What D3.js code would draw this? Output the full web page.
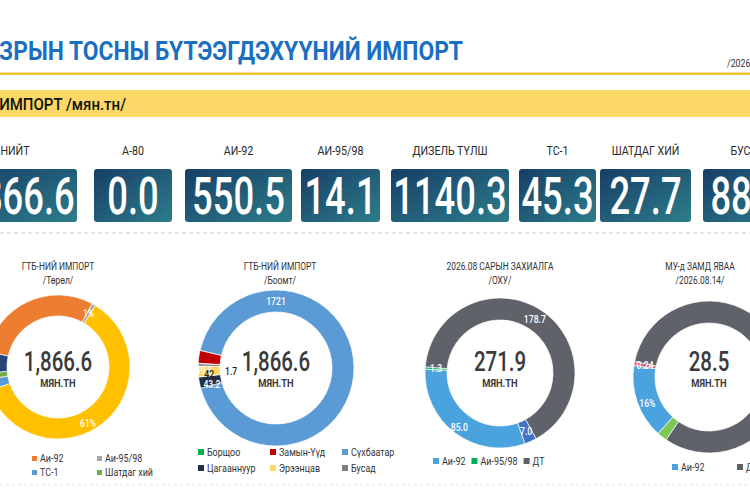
<!DOCTYPE html>
<html>
<head>
<meta charset="utf-8">
<script src="https://cdn.jsdelivr.net/npm/d3@7"></script>
<style>
  body { margin: 0; background: #fff; }
  svg { display: block; font-family: Roboto, "Noto Sans", sans-serif; }
</style>
</head>
<body>
<div id="chart"></div>
<script>
// ---- data ----
var kpiLabels = ["НИЙТ", "А-80", "АИ-92", "АИ-95/98", "ДИЗЕЛЬ ТҮЛШ", "ТС-1", "ШАТДАГ ХИЙ", "БУСАД"];
var kpiValues = [1866.6, 0.0, 550.5, 14.1, 1140.3, 45.3, 27.7, 88.7];

var typeNames = ["А-80", "Аи-92", "Аи-95/98", "Дизель түлш", "ТС-1", "Шатдаг хий", "Бусад"];
var typeValues = [0.0, 550.5, 14.1, 1140.3, 45.3, 27.7, 88.7];

var portNames = ["Борщоо", "Замын-Үүд", "Сүхбаатар", "Цагааннуур", "Эрээнцав", "Бусад"];
var portValues = [1.7, 49.5, 1721.0, 43.2, 42.0, 9.2];

var orderNames = ["Аи-92", "Аи-95/98", "ДТ", "ТС-1"];
var orderValues = [85.0, 1.3, 178.7, 7.0];

var transitNames = ["Аи-92", "Аи-95/98", "ДТ", "ТС-1"];
var transitValues = [4.5, 0.24, 23.16, 0.6];

var centerTotals = [1866.6, 1866.6, 271.9, 28.5];

// ---- layout ----
var W = 750, H = 500;
var tileEdges = [[-41, 77], [94, 172], [185, 292], [301, 380], [391, 509], [519, 596], [600, 691], [703, 790]];

var svg = d3.select("#chart").append("svg")
    .attr("width", W)
    .attr("height", H);

var defs = svg.append("defs");
var grad = defs.append("linearGradient")
    .attr("id", "tile")
    .attr("x1", 0).attr("y1", 0).attr("x2", 1).attr("y2", 1);
grad.append("stop").attr("offset", "0%").attr("stop-color", "#173e65");
grad.append("stop").attr("offset", "100%").attr("stop-color", "#2d7d8b");

// condensed text helper (squeezes glyphs horizontally)
function ctext(parent, x, y, str, size, o) {
    o = o || {};
    var g = parent.append("g")
        .attr("transform", "translate(" + x + "," + y + ") scale(" + (o.sx || 0.8) + ",1)");
    return g.append("text")
        .attr("text-anchor", o.anchor || "middle")
        .attr("font-size", size)
        .attr("font-weight", o.weight || 400)
        .attr("fill", o.fill || "#333")
        .attr("dy", o.dy || 0)
        .text(str);
}

// text whose left part runs off the page; fit the visible part between x0 and x1
function clipped(full, visible, x0, x1, y, size, weight, fill) {
    var t = svg.append("text").attr("font-size", size).attr("font-weight", weight).text(visible);
    var w = t.node().getComputedTextLength();
    t.remove();
    ctext(svg, x1, y, full, size, {sx: (x1 - x0) / w, anchor: "end", weight: weight, fill: fill});
}

// ---- header ----
clipped("ГАЗРЫН ТОСНЫ БҮТЭЭГДЭХҮҮНИЙ ИМПОРТ", "ЗРЫН ТОСНЫ БҮТЭЭГДЭХҮҮНИЙ ИМПОРТ", -1, 463, 60, 25, 700, "#1b6fc2");
ctext(svg, 727, 67, "/2026.08.14/", 11, {anchor: "start", fill: "#333", sx: 0.8});

svg.append("rect").attr("x", 0).attr("y", 72.5).attr("width", W).attr("height", 2.5).attr("fill", "#f1c232");
svg.append("rect").attr("x", 0).attr("y", 90).attr("width", W).attr("height", 27).attr("fill", "#fdd866");
clipped("ГТБ-НИЙ ИМПОРТ /мян.тн/", "ИМПОРТ /мян.тн/", -1, 126, 110, 16, 500, "#111");

// ---- KPI tiles ----
svg.append("line")
    .attr("x1", 0).attr("x2", W).attr("y1", 233).attr("y2", 233)
    .attr("stroke", "#c9c9c9").attr("stroke-dasharray", "4,3");

var tiles = svg.append("g").selectAll("g")
    .data(kpiValues)
    .join("g");

tiles.append("rect")
    .attr("x", (d, i) => tileEdges[i][0])
    .attr("y", 169)
    .attr("width", (d, i) => tileEdges[i][1] - tileEdges[i][0])
    .attr("height", 53)
    .attr("rx", 3)
    .attr("fill", "url(#tile)");

tiles.each(function (d, i) {
    var cx = (tileEdges[i][0] + tileEdges[i][1]) / 2;
    ctext(d3.select(this), cx, 214, d3.format(".1f")(d), 52, {fill: "#fff", weight: 500, sx: 0.7});
    var lx = i === 0 ? 15 : (i === 7 ? 748 : cx);
    ctext(d3.select(this), lx, 155, kpiLabels[i], 13, {fill: "#2a2a2a", sx: 0.82});
});

// ---- donuts ----
var gen = d3.format("~f");
var one = d3.format(".1f");

function drawDonut(c) {
    var g = svg.append("g").attr("transform", "translate(" + c.cx + "," + c.cy + ")");
    var a0 = c.start * Math.PI / 180;
    var pie = d3.pie().sort(null).startAngle(a0).endAngle(a0 + 2 * Math.PI);
    var arcs = pie(c.values);
    var arc = d3.arc().innerRadius(c.ri).outerRadius(c.r);
    var color = d3.scaleOrdinal().domain(c.names).range(c.colors);
    var sum = d3.sum(c.values);

    g.selectAll("path")
        .data(arcs)
        .join("path")
        .attr("d", arc)
        .attr("fill", (d, i) => color(c.names[i]))
        .attr("stroke", "#fff")
        .attr("stroke-width", 0.7);

    c.labels.forEach(function (l) {
        var d = arcs[l.i];
        var ang = l.a !== undefined ? l.a * Math.PI / 180 : (d.startAngle + d.endAngle) / 2;
        var rr = l.rad || (c.r + c.ri) / 2;
        var txt = l.fmt(c.values[l.i], sum);
        ctext(g, rr * Math.sin(ang), -rr * Math.cos(ang), txt, 10.5,
            {fill: l.fill, sx: 0.82, dy: "0.35em", weight: 500});
    });

    // center total
    ctext(svg, c.cx, 371, d3.format(",.1f")(c.total), 28, {fill: "#3a3a3a", weight: 500, sx: 0.73});
    ctext(svg, c.cx, 387, "МЯН.ТН", 11, {fill: "#3a3a3a", weight: 700, sx: 0.85});

    // titles
    ctext(svg, c.tx, 270, c.title[0], 10.5, {fill: "#333", sx: 0.8});
    ctext(svg, c.tx, 284, c.title[1], 10.5, {fill: "#333", sx: 0.8});

    // legend
    var x = c.leg.x0;
    c.leg.names.forEach(function (n, i) {
        var lx, ly;
        if (c.leg.cols) {
            lx = c.leg.xs[i % c.leg.cols];
            ly = c.leg.y0 + Math.floor(i / c.leg.cols) * c.leg.dy;
        } else {
            lx = x;
            ly = c.leg.y0;
        }
        svg.append("rect")
            .attr("x", lx).attr("y", ly - c.leg.m - 1)
            .attr("width", c.leg.m).attr("height", c.leg.m)
            .attr("fill", color(n));
        var t = ctext(svg, lx + c.leg.m + 3, ly, n, 10.5, {anchor: "start", fill: "#333", sx: 0.85});
        x = lx + c.leg.m + 3 + t.node().getComputedTextLength() * 0.85 + 6;
    });
}

drawDonut({
    cx: 58, cy: 367, r: 72, ri: 51, start: 282.3,
    names: typeNames, values: typeValues, total: centerTotals[0],
    colors: ["#4472c4", "#ed7d31", "#a5a5a5", "#ffc000", "#5b9bd5", "#70ad47", "#264478"],
    labels: [
        {i: 2, fmt: (v, s) => d3.format(".0%")(v / s), fill: "#fff"},
        {i: 3, fmt: (v, s) => d3.format(".0%")(v / s), fill: "#fff", a: 152, rad: 64}
    ],
    tx: 58, title: ["ГТБ-НИЙ ИМПОРТ", "/Төрөл/"],
    leg: {names: typeNames, xs: [-80, 32, 97], cols: 3, y0: 462, dy: 14, m: 5}
});

drawDonut({
    cx: 276, cy: 368, r: 78, ri: 56, start: 273.2,
    names: portNames, values: portValues, total: centerTotals[1],
    colors: ["#00b050", "#c00000", "#5b9bd5", "#222f48", "#ffd966", "#7f7f7f"],
    labels: [
        {i: 2, fmt: gen, fill: "#fff", a: 0},
        {i: 0, fmt: gen, fill: "#222", a: 266, rad: 45},
        {i: 1, fmt: gen, fill: "#fff", a: 268, rad: 72},
        {i: 4, fmt: gen, fill: "#222", a: 265, rad: 67},
        {i: 3, fmt: gen, fill: "#fff", a: 256, rad: 66}
    ],
    tx: 280, title: ["ГТБ-НИЙ ИМПОРТ", "/Боомт/"],
    leg: {names: portNames, xs: [198, 270, 342], cols: 3, y0: 456, dy: 16, m: 6}
});

drawDonut({
    cx: 500, cy: 373, r: 75, ri: 53, start: 160.5,
    names: orderNames, values: orderValues, total: centerTotals[2],
    colors: ["#4aa3df", "#00b050", "#5f6268", "#4472c4"],
    labels: [
        {i: 2, fmt: one, fill: "#fff"},
        {i: 1, fmt: one, fill: "#fff"},
        {i: 0, fmt: one, fill: "#fff", rad: 68},
        {i: 3, fmt: one, fill: "#fff"}
    ],
    tx: 500, title: ["2026.08 САРЫН ЗАХИАЛГА", "/ОХУ/"],
    leg: {names: ["Аи-92", "Аи-95/98", "ДТ"], x0: 433, y0: 465, m: 6}
});

drawDonut({
    cx: 709, cy: 377, r: 76, ri: 54, start: 222,
    names: transitNames, values: transitValues, total: centerTotals[3],
    colors: ["#4aa3df", "#e05a7c", "#5f6268", "#7dc855"],
    labels: [
        {i: 1, fmt: d3.format(".2f"), fill: "#fff"},
        {i: 0, fmt: (v, s) => d3.format(".0%")(v / s), fill: "#fff", a: 247, rad: 67}
    ],
    tx: 700, title: ["МУ-д ЗАМД ЯВАА", "/2026.08.14/"],
    leg: {names: ["Аи-92", "ДТ"], xs: [672, 737], cols: 2, y0: 471, dy: 14, m: 6}
});

svg.append("line")
    .attr("x1", 0).attr("x2", W).attr("y1", 485).attr("y2", 485)
    .attr("stroke", "#e2e2e2").attr("stroke-dasharray", "3,3");
</script>
</body>
</html>
